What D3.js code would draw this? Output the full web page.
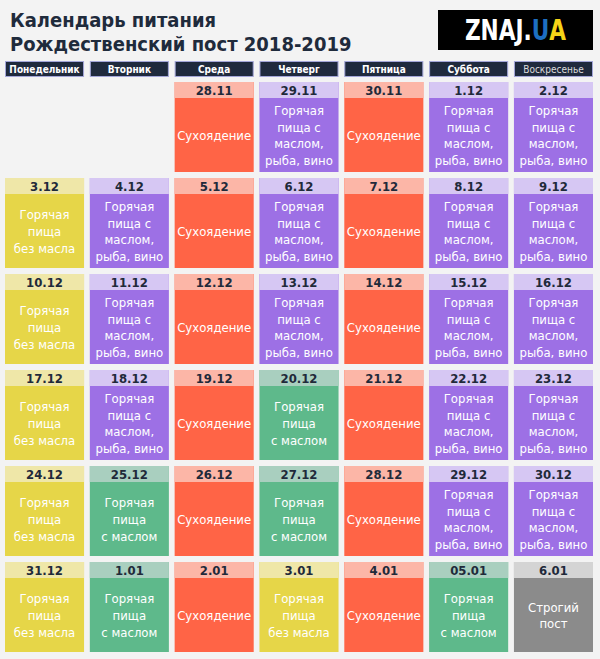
<!DOCTYPE html>
<html><head><meta charset="utf-8">
<script src="https://cdn.jsdelivr.net/npm/d3@7"></script>
<style>
html,body{margin:0;padding:0;background:#f3f3f3;}
svg{display:block;}
</style></head>
<body><svg id="chart" width="600" height="659"></svg>
<script>
const titleLines = ["Календарь питания", "Рождественский пост 2018-2019"];
const days = ["Понедельник", "Вторник", "Среда", "Четверг", "Пятница", "Суббота", "Воскресенье"];
const weeks = [0, 1, 2, 3, 4, 5];
// each cell: [week, dayIndex, date, type]
const cellDates = [
  [0,2,"28.11","dry"],[0,3,"29.11","fish"],[0,4,"30.11","dry"],[0,5,"1.12","fish"],[0,6,"2.12","fish"],
  [1,0,"3.12","nooil"],[1,1,"4.12","fish"],[1,2,"5.12","dry"],[1,3,"6.12","fish"],[1,4,"7.12","dry"],[1,5,"8.12","fish"],[1,6,"9.12","fish"],
  [2,0,"10.12","nooil"],[2,1,"11.12","fish"],[2,2,"12.12","dry"],[2,3,"13.12","fish"],[2,4,"14.12","dry"],[2,5,"15.12","fish"],[2,6,"16.12","fish"],
  [3,0,"17.12","nooil"],[3,1,"18.12","fish"],[3,2,"19.12","dry"],[3,3,"20.12","oil"],[3,4,"21.12","dry"],[3,5,"22.12","fish"],[3,6,"23.12","fish"],
  [4,0,"24.12","nooil"],[4,1,"25.12","oil"],[4,2,"26.12","dry"],[4,3,"27.12","oil"],[4,4,"28.12","dry"],[4,5,"29.12","fish"],[4,6,"30.12","fish"],
  [5,0,"31.12","nooil"],[5,1,"1.01","oil"],[5,2,"2.01","dry"],[5,3,"3.01","nooil"],[5,4,"4.01","dry"],[5,5,"05.01","oil"],[5,6,"6.01","strict"]
];
const mealTypes = ["dry", "fish", "nooil", "oil", "strict"];
const mealLabels = [
  ["Сухоядение"],
  ["Горячая", "пища с", "маслом,", "рыба, вино"],
  ["Горячая", "пища", "без масла"],
  ["Горячая", "пища", "с маслом"],
  ["Строгий", "пост"]
];
const bodyColors = ["#ff6446", "#9d70e5", "#e6d648", "#5eb98b", "#8b8b8b"];
const bandColors = ["#fcb6a7", "#d6c7f3", "#efe7a8", "#a9cfbf", "#d4d4d4"];

const FONT = "'DejaVu Sans Condensed', 'DejaVu Sans', sans-serif";
const svg = d3.select("#chart");

const x = d3.scaleBand().domain(days).range([5, 593]).paddingInner(0.068).paddingOuter(0);
const y = d3.scaleBand().domain(weeks).range([82, 652]).paddingInner(0.0625).paddingOuter(0);
const bodyColor = d3.scaleOrdinal().domain(mealTypes).range(bodyColors);
const bandColor = d3.scaleOrdinal().domain(mealTypes).range(bandColors);
const labelOf = d3.scaleOrdinal().domain(mealTypes).range(mealLabels);

// title
svg.append("g").selectAll("text").data(titleLines).join("text")
  .attr("x", 10).attr("y", (d, i) => 27 + i * 24)
  .attr("font-family", FONT).attr("font-weight", "bold").attr("font-size", 20)
  .attr("fill", "#1f2b3c").text(d => d);

// logo
const logo = svg.append("g");
logo.append("rect").attr("x", 438).attr("y", 10).attr("width", 155).attr("height", 40).attr("fill", "#000");
const lt = logo.append("g").attr("transform", "translate(515.5,40) scale(0.86,1)")
  .append("text").attr("x", 0).attr("y", 0).attr("text-anchor", "middle")
  .attr("font-family", FONT).attr("font-weight", "bold").attr("font-size", 28);
lt.append("tspan").attr("fill", "#fff").text("ZNAJ.");
lt.append("tspan").attr("fill", "#1d6fc2").text("U");
lt.append("tspan").attr("fill", "#f6d417").text("A");

// day headers
const hdr = svg.append("g").selectAll("g").data(days).join("g");
hdr.append("rect")
  .attr("x", d => x(d) + 0.5).attr("y", 61.5)
  .attr("width", x.bandwidth() - 1).attr("height", 15)
  .attr("fill", "#1f2a3d").attr("stroke", "#a3a6d8").attr("stroke-width", 1);
hdr.append("text")
  .attr("x", d => x(d) + x.bandwidth() / 2).attr("y", 72.5)
  .attr("text-anchor", "middle").attr("font-family", FONT)
  .attr("font-weight", (d, i) => i === 6 ? "normal" : "bold")
  .attr("font-size", 10)
  .attr("fill", (d, i) => i === 6 ? "#dcdcdc" : "#fff")
  .text(d => d);

// cells
const BAND = 16;
const cells = svg.append("g").selectAll("g").data(cellDates).join("g")
  .attr("transform", d => `translate(${x(days[d[1]])},${y(d[0])})`);
cells.append("rect").attr("width", x.bandwidth()).attr("height", y.bandwidth())
  .attr("fill", d => bodyColor(d[3]));
cells.append("rect").attr("width", x.bandwidth()).attr("height", BAND)
  .attr("fill", d => bandColor(d[3]));
cells.append("text")
  .attr("x", x.bandwidth() / 2).attr("y", 12.5).attr("text-anchor", "middle")
  .attr("font-family", FONT).attr("font-weight", "bold").attr("font-size", 13)
  .attr("fill", "#1f2a3a").text(d => d[2]);
const LH = 16.8;
cells.each(function(d) {
  const lines = labelOf(d[3]);
  const cy = BAND + (y.bandwidth() - BAND) / 2;
  const y0 = cy - (lines.length - 1) * LH / 2 + 5;
  d3.select(this).append("text")
    .attr("text-anchor", "middle").attr("font-family", FONT)
    .attr("font-size", 13).attr("fill", "#fff")
    .selectAll("tspan").data(lines).join("tspan")
    .attr("x", x.bandwidth() / 2).attr("y", (t, i) => y0 + i * LH)
    .text(t => t);
});
</script>
</body></html>
